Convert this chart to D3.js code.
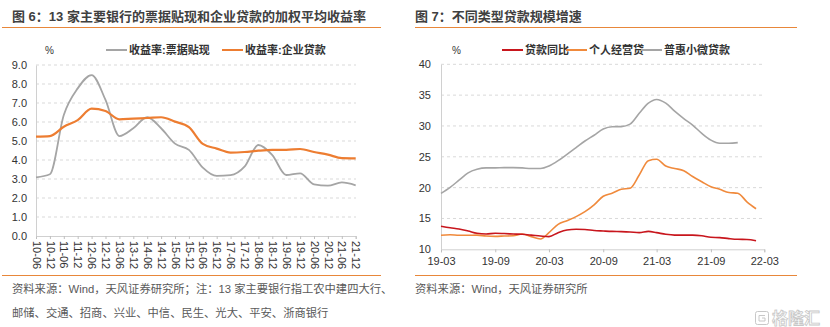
<!DOCTYPE html>
<html>
<head>
<meta charset="utf-8">
<script src="https://cdn.jsdelivr.net/npm/d3@7"></script>
<style>
  body { margin: 0; background: #fff; }
  svg { display: block; font-family: "Liberation Sans", Arial, "Noto Sans CJK SC", sans-serif; }
</style>
</head>
<body>
<svg id="chart" width="830" height="327"></svg>
<script>
// 图6 数据：半年度
const halfYears = ["10-06","10-12","11-06","11-12","12-06","12-12","13-06","13-12","14-06","14-12",
  "15-06","15-12","16-06","16-12","17-06","17-12","18-06","18-12","19-06","19-12","20-06","20-12","21-06","21-12"];
const billRate = [3.09, 3.25, 6.37, 7.77, 8.47, 7.16, 5.26, 5.67, 6.25, 5.67, 4.86, 4.53,
  3.6, 3.16, 3.2, 3.65, 4.79, 4.26, 3.21, 3.3, 2.72, 2.65, 2.82, 2.67];
const corpRate = [5.23, 5.26, 5.75, 6.1, 6.7, 6.58, 6.14, 6.18, 6.21, 6.25, 6.02, 5.73,
  4.85, 4.6, 4.39, 4.42, 4.49, 4.53, 4.53, 4.58, 4.42, 4.28, 4.1, 4.09];
const yTicks6 = [0, 1, 2, 3, 4, 5, 6, 7, 8, 9];

// 图7 数据：月度，2019-03 起
const startMonth = "2019-03";
const loanYoY = [13.75, 13.5, 13.3, 12.97, 12.6, 12.48, 12.6, 12.55, 12.48, 12.43, 12.3, 12.15,
  12.05, 12.7, 13.13, 13.24, 13.2, 13.05, 12.97, 12.9, 12.86, 12.8, 12.7, 12.9,
  12.7, 12.43, 12.3, 12.3, 12.3, 12.2, 11.95, 11.9, 11.73, 11.62, 11.6, 11.4];
const bizLoan = [12.27, 12.35, 12.27, 12.27, 12.3, 12.15, 12.1, 12.15, 12.2, 12.48, 12.05, 11.67,
  12.7, 14.05, 14.64, 15.3, 16.1, 17.2, 18.6, 19.08, 19.73, 19.9, 22.05, 24.37,
  24.6, 23.5, 23.1, 22.75, 21.8, 20.96, 20.15, 19.73, 19.2, 19.1, 17.7, 16.58];
const microLoan = [19.08, 20.05, 21.2, 22.4, 22.97, 23.2, 23.2, 23.25, 23.25, 23.2, 23.1, 23.1,
  23.5, 24.37, 25.4, 26.5, 27.56, 28.5, 29.5, 29.88, 29.9, 30.3, 32.05, 33.7,
  34.3, 33.7, 32.4, 31.2, 30.15, 28.8, 27.7, 27.2, 27.2, 27.3];
const xTicks7 = ["19-03","19-09","20-03","20-09","21-03","21-09","22-03"];
const yTicks7 = [10, 15, 20, 25, 30, 35, 40];

const svg = d3.select("#chart");
const accent = "#E8873A";
const textDark = "#333";

// 标题和分隔线
function header(x0, x1, title) {
  svg.append("text").attr("x", x0 === 2 ? 12 : 415).attr("y", 21)
    .attr("font-size", 13).attr("font-weight", "bold").attr("fill", "#404040")
    .text(title);
  svg.append("line").attr("x1", x0).attr("x2", x1).attr("y1", 27.5).attr("y2", 27.5)
    .attr("stroke", accent).attr("stroke-width", 1.2);
  svg.append("line").attr("x1", x0).attr("x2", x1).attr("y1", 275.5).attr("y2", 275.5)
    .attr("stroke", accent).attr("stroke-width", 1.2);
}
header(2, 381, "图 6：13 家主要银行的票据贴现和企业贷款的加权平均收益率");
header(415, 797, "图 7：不同类型贷款规模增速");

function legendItem(x, color, label, w) {
  svg.append("line").attr("x1", x).attr("x2", x + (w || 21)).attr("y1", 50).attr("y2", 50)
    .attr("stroke", color).attr("stroke-width", 2);
  svg.append("text").attr("x", x + (w || 21) + 2).attr("y", 54)
    .attr("font-size", 11).attr("font-weight", "bold").attr("fill", textDark).text(label);
}

// ---------- 图 6 ----------
const x6 = d3.scalePoint().domain(halfYears).range([36, 355.7]);
const y6 = d3.scaleLinear().domain([0, 9]).range([236, 65]);

const g6 = svg.append("g");
g6.selectAll(".grid").data(yTicks6.slice(1)).join("line")
  .attr("x1", 36).attr("x2", 356).attr("y1", d => y6(d)).attr("y2", d => y6(d))
  .attr("stroke", "#D9D9D9").attr("stroke-dasharray", "3,3");

const ax6 = g6.append("g").attr("transform", "translate(0,236)")
  .call(d3.axisBottom(x6).tickSize(3).tickPadding(4));
ax6.select(".domain").attr("stroke", "#D0D0D0");
ax6.selectAll(".tick line").attr("stroke", "#BFBFBF");
ax6.selectAll(".tick text")
  .attr("font-size", 11).attr("fill", textDark)
  .attr("transform", "rotate(90)").attr("text-anchor", "start")
  .attr("x", 5).attr("y", 0).attr("dy", "0.35em");

const ay6 = g6.append("g").attr("transform", "translate(36,0)")
  .call(d3.axisLeft(y6).tickValues(yTicks6).tickFormat(d3.format(".1f")).tickSize(0).tickPadding(9));
ay6.select(".domain").attr("stroke", "#D0D0D0");
ay6.selectAll(".tick text").attr("font-size", 11).attr("fill", textDark);

const line6 = d3.line().x((d, i) => x6(halfYears[i])).y(d => y6(d)).curve(d3.curveMonotoneX);
g6.append("path").datum(billRate).attr("d", line6)
  .attr("fill", "none").attr("stroke", "#A5A5A5").attr("stroke-width", 1.8);
g6.append("path").datum(corpRate).attr("d", line6)
  .attr("fill", "none").attr("stroke", "#ED7D31").attr("stroke-width", 2.2);

svg.append("text").attr("x", 45).attr("y", 54).attr("font-size", 10).attr("fill", textDark).text("%");
legendItem(106, "#A5A5A5", "收益率:票据贴现");
legendItem(222, "#ED7D31", "收益率:企业贷款");

// ---------- 图 7 ----------
const parseM = d3.timeParse("%Y-%m");
const fmtM = d3.timeFormat("%y-%m");
const t0 = parseM(startMonth);
const monthAt = i => d3.timeMonth.offset(t0, i);
const x7 = d3.scaleTime().domain([parseM("2019-03"), parseM("2022-03")]).range([441, 764.3]);
const y7 = d3.scaleLinear().domain([10, 40]).range([249.3, 64.3]);

const g7 = svg.append("g");
g7.selectAll(".grid").data(yTicks7.slice(1)).join("line")
  .attr("x1", 441).attr("x2", 765).attr("y1", d => y7(d)).attr("y2", d => y7(d))
  .attr("stroke", "#D9D9D9").attr("stroke-dasharray", "3,3");

const ax7 = g7.append("g").attr("transform", "translate(0,249.3)")
  .call(d3.axisBottom(x7).tickValues(xTicks7.map(s => parseM("20" + s))).tickFormat(fmtM)
    .tickSize(3).tickPadding(5));
ax7.select(".domain").attr("stroke", "#D0D0D0");
ax7.selectAll(".tick line").attr("stroke", "#BFBFBF");
ax7.selectAll(".tick text").attr("font-size", 11).attr("fill", textDark);

const ay7 = g7.append("g").attr("transform", "translate(441,0)")
  .call(d3.axisLeft(y7).tickValues(yTicks7).tickSize(0).tickPadding(10));
ay7.select(".domain").attr("stroke", "#D0D0D0");
ay7.selectAll(".tick text").attr("font-size", 11).attr("fill", textDark);

const line7 = d3.line().x((d, i) => x7(monthAt(i))).y(d => y7(d)).curve(d3.curveMonotoneX);
g7.append("path").datum(microLoan).attr("d", line7)
  .attr("fill", "none").attr("stroke", "#A5A5A5").attr("stroke-width", 1.6);
g7.append("path").datum(bizLoan).attr("d", line7)
  .attr("fill", "none").attr("stroke", "#F08A3C").attr("stroke-width", 1.6);
g7.append("path").datum(loanYoY).attr("d", line7)
  .attr("fill", "none").attr("stroke", "#C8161D").attr("stroke-width", 1.6);

svg.append("text").attr("x", 452).attr("y", 54).attr("font-size", 10).attr("fill", textDark).text("%");
legendItem(502, "#C8161D", "贷款同比");
legendItem(566, "#F08A3C", "个人经营贷");
legendItem(641, "#A5A5A5", "普惠小微贷款");

// ---------- 资料来源 ----------
const src = svg.append("g").attr("font-size", 11.3).attr("fill", "#595959");
src.append("text").attr("x", 12).attr("y", 293)
  .text("资料来源：Wind，天风证券研究所；注：13 家主要银行指工农中建四大行、");
src.append("text").attr("x", 12).attr("y", 317)
  .text("邮储、交通、招商、兴业、中信、民生、光大、平安、浙商银行");
src.append("text").attr("x", 415).attr("y", 293).text("资料来源：Wind，天风证券研究所");

// 水印
const wm = svg.append("g").attr("fill", "none").attr("stroke", "#C8C8C8");
wm.append("rect").attr("x", 755.5).attr("y", 311.5).attr("width", 13).attr("height", 13).attr("rx", 2);
wm.append("path").attr("d", "M765 315.5 H759 V321 H765 V318 H762");
svg.append("text").attr("x", 772).attr("y", 323.5).attr("font-size", 16).attr("font-weight", "bold")
  .attr("fill", "#fff").attr("stroke", "#C8C8C8").attr("stroke-width", 0.8).text("格隆汇");
</script>
</body>
</html>
